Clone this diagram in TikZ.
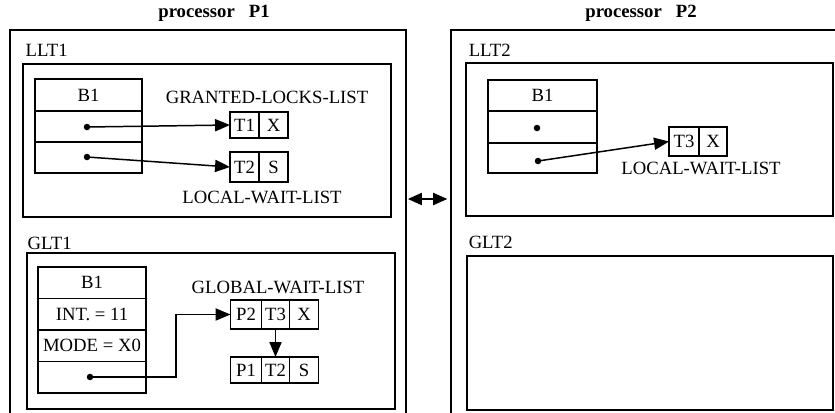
\documentclass[tikz,border=0pt]{standalone}
\usepackage{fontspec}
\setmainfont{Liberation Serif}
\usetikzlibrary{arrows.meta, positioning}
\newcommand{\pxu}{0.535pt}

\begin{document}
\begin{tikzpicture}[x=0.535pt, y=-0.535pt, line width=0.8pt,
    box/.style={draw, inner sep=0pt, outer sep=0pt},
    cell/.style={draw, inner sep=0pt, outer sep=0pt},
    ptr/.style={-{Triangle[length=8pt,width=6.5pt]}},
    dot/.style={circle, fill, inner sep=0pt, minimum size=6.5*\pxu}]
\useasboundingbox (0,0) rectangle (835,412);
\clip (0,0) rectangle (835,412);

% processors
\node[box, line width=0.6pt, minimum width=396*\pxu, minimum height=400*\pxu] at (208,230) (P1) {};
\node[box, line width=0.6pt, minimum width=400*\pxu, minimum height=400*\pxu] at (651,230) (P2) {};
\node[font=\bfseries] at (214,13) (p1lab) {processor\ \ \ P1};
\node[font=\bfseries] at (641,13) (p2lab) {processor\ \ \ P2};
\coordinate (mid) at (428,199);
\draw[{Triangle[length=7.5pt,width=6.5pt]}-{Triangle[length=7.5pt,width=6.5pt]}, shorten <=1pt, shorten >=2pt] (P1.east |- mid) -- (P2.west |- mid);

% LLT1
\node[anchor=west, inner sep=0pt] at (25,50) (llt1) {LLT1};
\node[box, minimum width=368*\pxu, minimum height=153*\pxu] at (207,140.5) (LLT1) {};
\node[cell, minimum width=107*\pxu, minimum height=32*\pxu] at (88.5,95) (a0) {B1};
\node[cell, minimum width=107*\pxu, minimum height=31*\pxu] at (88.5,126.5) (a1) {};
\node[cell, minimum width=107*\pxu, minimum height=31*\pxu] at (88.5,157.5) (a2) {};
\node[dot] at (87,127) (da1) {};
\node[dot] at (87,157) (da2) {};
\node at (267,97) (gll) {GRANTED-LOCKS-LIST};
\node[cell, minimum width=29*\pxu, minimum height=26*\pxu] at (244.5,125) (t1) {T1};
\node[cell, minimum width=29*\pxu, minimum height=26*\pxu, right=0pt of t1] (x1) {X};
\node[cell, minimum width=29*\pxu, minimum height=30*\pxu] at (244.5,167) (t2) {T2};
\node[cell, minimum width=29*\pxu, minimum height=30*\pxu, right=0pt of t2] (s2) {S};
\node at (262,197) (lwl1) {LOCAL-WAIT-LIST};
\draw[ptr] (da1.center) -- (t1.west);
\draw[ptr] (da2.center) -- (t2.west);

% GLT1
\node[anchor=west, inner sep=0pt] at (27,243) (glt1) {GLT1};
\node[box, minimum width=368*\pxu, minimum height=156*\pxu] at (211,331) (GLT1) {};
\node[cell, minimum width=108*\pxu, minimum height=31.5*\pxu] at (92,282.75) (b0) {B1};
\node[cell, minimum width=108*\pxu, minimum height=31.5*\pxu] at (92,314.25) (b1) {INT. = 11};
\node[cell, minimum width=108*\pxu, minimum height=31.5*\pxu] at (92,345.75) (b2) {MODE = X0};
\node[cell, minimum width=108*\pxu, minimum height=31.5*\pxu] at (92,377.25) (b3) {};
\node[dot] at (90,377) (db3) {};
\node at (278,287) (gwl) {GLOBAL-WAIT-LIST};
\node[cell, minimum width=31*\pxu, minimum height=29*\pxu] at (246,314.5) (gp2) {P2};
\node[cell, minimum width=28*\pxu, minimum height=29*\pxu, right=0pt of gp2] (gt3) {T3};
\node[cell, minimum width=29*\pxu, minimum height=29*\pxu, right=0pt of gt3] (gx) {X};
\node[cell, minimum width=31*\pxu, minimum height=26*\pxu] at (246,370) (gp1) {P1};
\node[cell, minimum width=28*\pxu, minimum height=26*\pxu, right=0pt of gp1] (gt2) {T2};
\node[cell, minimum width=29*\pxu, minimum height=26*\pxu, right=0pt of gt2] (gs) {S};
\coordinate (bend) at (176,377);
\draw[ptr] (db3.center) -| (bend |- gp2.west) -- (gp2.west);
\draw[ptr] (gt3.south) -- (gt2.north);

% LLT2
\node[anchor=west, inner sep=0pt] at (468,50) (llt2) {LLT2};
\node[box, minimum width=367*\pxu, minimum height=153*\pxu] at (649.5,139.5) (LLT2) {};
\node[cell, minimum width=109*\pxu, minimum height=31*\pxu] at (542.5,95.5) (c0) {B1};
\node[cell, minimum width=109*\pxu, minimum height=32*\pxu] at (542.5,127) (c1) {};
\node[cell, minimum width=109*\pxu, minimum height=30*\pxu] at (542.5,158) (c2) {};
\node[dot] at (537,128) (dc1) {};
\node[dot] at (538,161) (dc2) {};
\node[cell, minimum width=30*\pxu, minimum height=29*\pxu] at (684,141.5) (t3) {T3};
\node[cell, minimum width=28*\pxu, minimum height=29*\pxu, right=0pt of t3] (x3) {X};
\node at (701,168) (lwl2) {LOCAL-WAIT-LIST};
\draw[ptr] (dc2.center) -- (t3.west);

% GLT2
\node[anchor=west, inner sep=0pt] at (468,242) (glt2) {GLT2};
\node[box, minimum width=366*\pxu, minimum height=154*\pxu] at (650,333) (GLT2) {};
\end{tikzpicture}
\end{document}
